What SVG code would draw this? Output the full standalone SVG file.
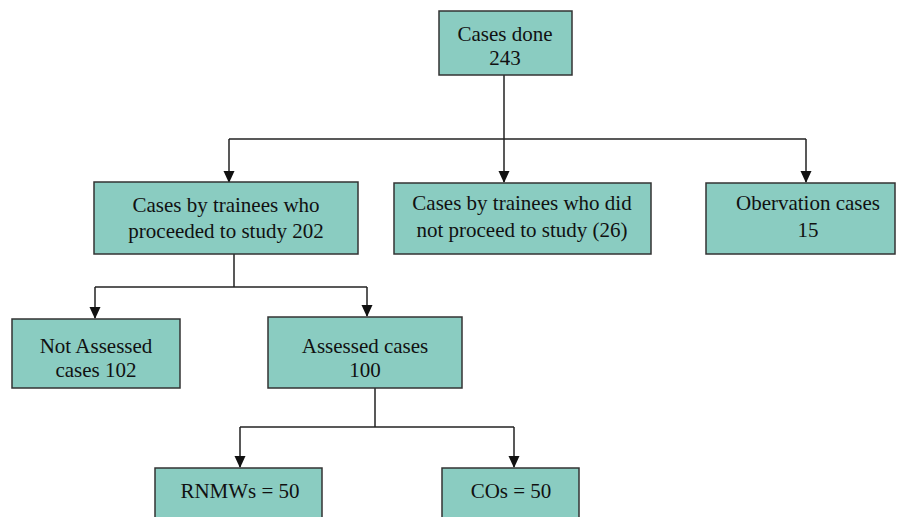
<svg xmlns="http://www.w3.org/2000/svg" width="898" height="517" viewBox="0 0 898 517">
<defs>
<marker id="arr" markerWidth="12" markerHeight="12" refX="11" refY="6" orient="auto" markerUnits="userSpaceOnUse" viewBox="0 0 12 12">
<path d="M0,0.5 L12,6 L0,11.5 Z" fill="#111"/>
</marker>
<style>
.box{fill:#8accc1;stroke:#333;stroke-width:1.5}
.t{font-family:"Liberation Serif","Times New Roman",serif;font-size:21px;fill:#111;text-anchor:middle}
.c{fill:none;stroke:#222;stroke-width:1.5}
</style>
</defs>
<rect width="898" height="517" fill="#fff"/>
<g id="connectors">
<path class="c" d="M504,75 V139"/>
<path class="c" d="M229,139 H806"/>
<path class="c" d="M229,139 V182" marker-end="url(#arr)"/>
<path class="c" d="M504,139 V182" marker-end="url(#arr)"/>
<path class="c" d="M806,139 V182" marker-end="url(#arr)"/>
<path class="c" d="M234,254 V287"/>
<path class="c" d="M95,287 H367"/>
<path class="c" d="M95,287 V318" marker-end="url(#arr)"/>
<path class="c" d="M367,287 V316" marker-end="url(#arr)"/>
<path class="c" d="M375,388 V427"/>
<path class="c" d="M240,427 H514"/>
<path class="c" d="M240,427 V467" marker-end="url(#arr)"/>
<path class="c" d="M514,427 V467" marker-end="url(#arr)"/>
</g>
<g id="n-done">
<rect class="box" x="439" y="11" width="133" height="64"/>
<text class="t" x="505" y="41">Cases done</text>
<text class="t" x="505" y="65">243</text>
</g>
<g id="n-proceeded">
<rect class="box" x="94" y="182" width="264" height="72"/>
<text class="t" x="226" y="212">Cases by trainees who</text>
<text class="t" x="226" y="238">proceeded to study 202</text>
</g>
<g id="n-notproceeded">
<rect class="box" x="394" y="183" width="257" height="71"/>
<text class="t" x="522" y="210">Cases by trainees who did</text>
<text class="t" x="522" y="237">not proceed to study (26)</text>
</g>
<g id="n-observation">
<rect class="box" x="706" y="183" width="189" height="71"/>
<text class="t" x="808" y="210">Obervation cases</text>
<text class="t" x="808" y="237">15</text>
</g>
<g id="n-notassessed">
<rect class="box" x="12" y="319" width="168" height="69"/>
<text class="t" x="96" y="353">Not Assessed</text>
<text class="t" x="96" y="377">cases 102</text>
</g>
<g id="n-assessed">
<rect class="box" x="268" y="317" width="194" height="71"/>
<text class="t" x="365" y="353">Assessed cases</text>
<text class="t" x="365" y="377">100</text>
</g>
<g id="n-rnmws">
<rect class="box" x="155" y="468" width="167" height="60"/>
<text class="t" x="240" y="498">RNMWs = 50</text>
</g>
<g id="n-cos">
<rect class="box" x="442" y="468" width="137" height="60"/>
<text class="t" x="511" y="498">COs = 50</text>
</g>
</svg>
